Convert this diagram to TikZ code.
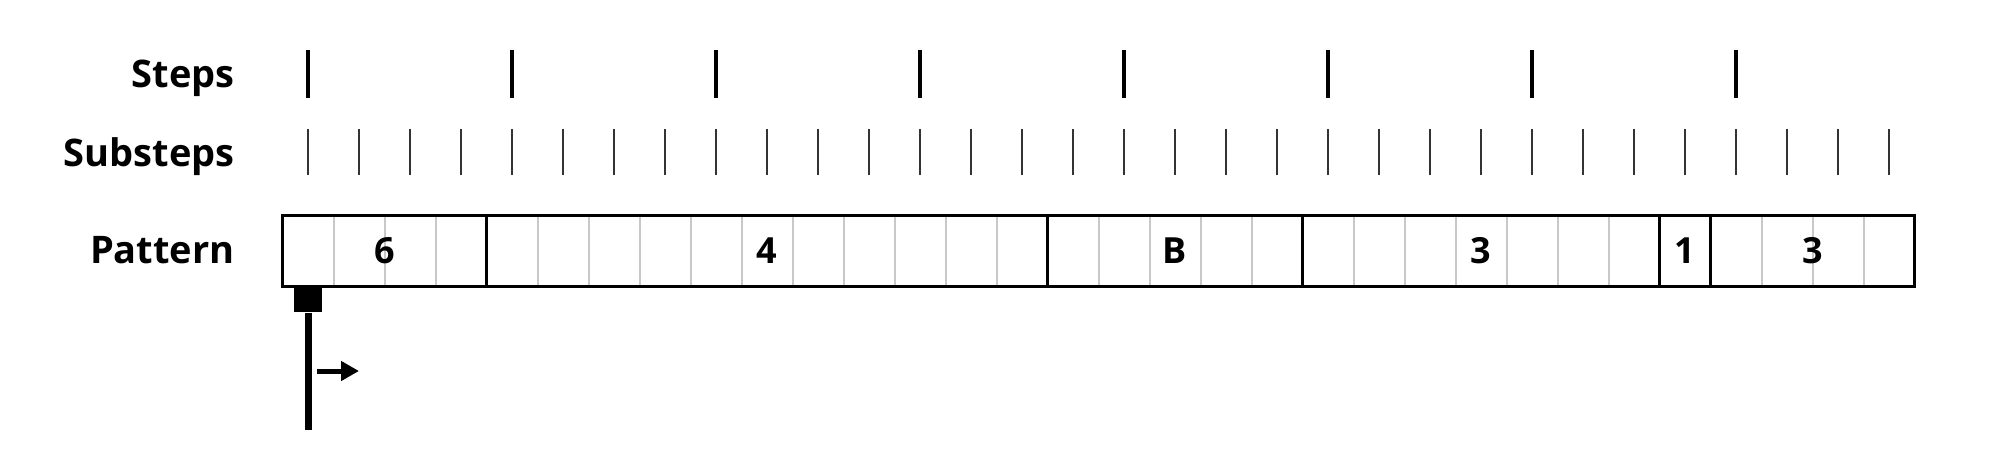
\documentclass[tikz,border=0pt]{standalone}
\usepackage{fontspec}
\setmainfont{Open Sans}
\usetikzlibrary{arrows.meta,positioning}
\definecolor{CellGrey}{HTML}{C8C8C8}
\definecolor{TickGrey}{HTML}{333333}
\tikzset{
  rowlabel/.style={anchor=base east,inner sep=0pt,font=\bfseries\fontsize{19}{22}\selectfont},
  segment/.style={draw,line width=1.5pt,inner sep=0pt,outer sep=0pt,minimum height=35.5pt,font=\bfseries\fontsize{18}{22}\selectfont},
  steptick/.style={line width=1.75pt},
  subtick/.style={TickGrey,line width=1pt},
  cellline/.style={CellGrey,line width=1pt},
}

\begin{document}
\begin{tikzpicture}[>=Latex,x=0.5pt,y=-0.5pt]
    \useasboundingbox (0,0) rectangle (1999,471);
    \node[rowlabel] (steps) at (235,87) {Steps};
    \node[rowlabel] (substeps) at (235,166) {Substeps};
    \node[rowlabel] (pattern) at (235,263) {Pattern};
    \foreach \i in {0,...,7} {
      \draw[steptick] (308+204*\i,50) -- (308+204*\i,98);
    }
    \foreach \i in {0,...,31} {
      \draw[subtick] (308+51*\i,129) -- (308+51*\i,175);
    }
    \foreach \i in {1,...,31} {
      \draw[cellline] (282.5+51*\i,215) -- (282.5+51*\i,286);
    }
    \node[segment,minimum width=4*25.5pt] (seg6) at (384.5,250.5) {6};
    \node[segment,minimum width=11*25.5pt,right=0pt of seg6] (seg4) {4};
    \node[segment,minimum width=5*25.5pt,right=0pt of seg4] (segB) {B};
    \node[segment,minimum width=7*25.5pt,right=0pt of segB] (seg3a) {3};
    \node[segment,minimum width=1*25.5pt,right=0pt of seg3a] (seg1) {1};
    \node[segment,minimum width=4*25.5pt,right=0pt of seg1] (seg3b) {3};
    \node[fill,inner sep=0pt,minimum width=14pt,minimum height=13pt,anchor=north] (head) at (308,286) {};
    \coordinate (stemend) at (308,430);
    \draw[line width=3.5pt] (head.south) -- (stemend);
    \coordinate (dirtail) at (317,371);
    \coordinate (dirtip) at (359,371);
    \draw[-{Triangle[length=9pt,width=9.5pt]},line width=2.5pt] (dirtail) -- (dirtip);
  \end{tikzpicture}
\end{document}
